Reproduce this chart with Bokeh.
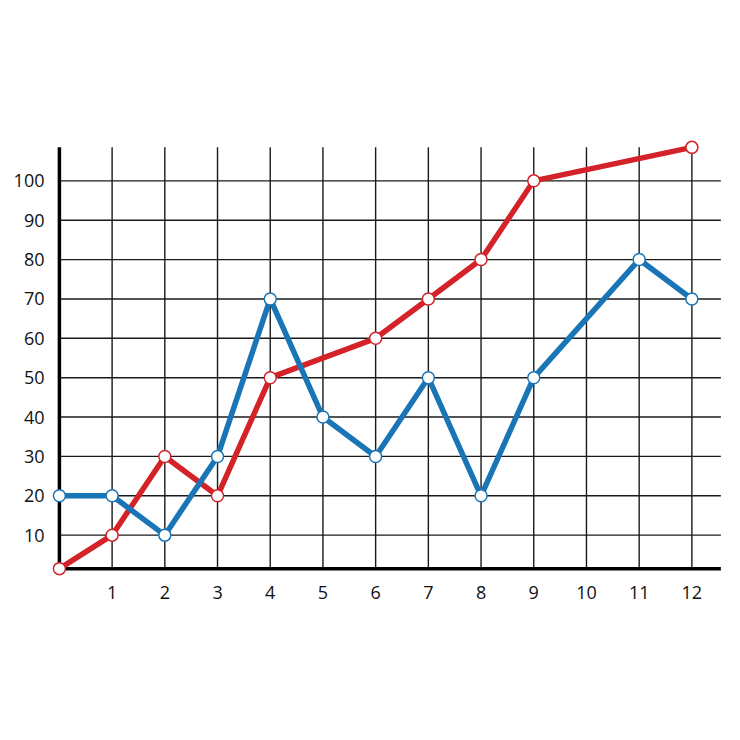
from bokeh.plotting import figure
from bokeh.models import Range1d, FixedTicker
from bokeh.embed import file_html
from bokeh.resources import INLINE

# ---- data ----
red_x = [0, 1, 2, 3, 4, 6, 7, 8, 9, 12]
red_y = [1.5, 10, 30, 20, 50, 60, 70, 80, 100, 108.5]
blue_x = [0, 1, 2, 3, 4, 5, 6, 7, 8, 9, 11, 12]
blue_y = [20, 20, 10, 30, 70, 40, 30, 50, 20, 50, 80, 70]
x_ticks = [1, 2, 3, 4, 5, 6, 7, 8, 9, 10, 11, 12]
y_ticks = [10, 20, 30, 40, 50, 60, 70, 80, 90, 100]
x_min, x_max = 0, 12.55
y_min, y_max = 1.5, 108.5

RED = "#d42229"
BLUE = "#1a75b7"
FONT = "Open Sans"

p = figure(frame_width=672, frame_height=437,
           x_range=Range1d(-0.15, 12.6), y_range=Range1d(-0.5, 110.5),
           output_backend="svg", toolbar_location=None,
           min_border_left=51, min_border_top=139, min_border_right=2,
           min_border_bottom=110)
p.outline_line_color = None
p.background_fill_color = "white"
p.xgrid.grid_line_color = None
p.ygrid.grid_line_color = None

for ax in (p.xaxis[0], p.yaxis[0]):
    ax.axis_line_color = None
    ax.major_tick_line_color = None
    ax.minor_tick_line_color = None
    ax.major_label_text_font = FONT
    ax.major_label_text_font_size = "18px"
    ax.major_label_text_color = "#111111"
p.xaxis[0].ticker = FixedTicker(ticks=x_ticks)
p.yaxis[0].ticker = FixedTicker(ticks=y_ticks)
p.xaxis[0].major_label_standoff = 3
p.yaxis[0].major_label_standoff = 1

# grid lines
p.segment(x0=x_ticks, y0=[y_min] * len(x_ticks), x1=x_ticks, y1=[y_max] * len(x_ticks),
          line_color="#1a1a1a", line_width=1.4)
p.segment(x0=[x_min] * len(y_ticks), y0=y_ticks, x1=[x_max] * len(y_ticks), y1=y_ticks,
          line_color="#1a1a1a", line_width=1.4)
# axis lines
p.segment(x0=[x_min], y0=[y_min], x1=[x_min], y1=[y_max], line_color="black", line_width=3.5)
p.segment(x0=[x_min], y0=[y_min], x1=[x_max], y1=[y_min], line_color="black", line_width=3.5)

# series
p.line(red_x, red_y, line_color=RED, line_width=5.5, line_join="round")
p.scatter(red_x, red_y, size=12, fill_color="white", line_color=RED, line_width=1.5)
p.line(blue_x, blue_y, line_color=BLUE, line_width=5.5, line_join="round")
p.scatter(blue_x, blue_y, size=12, fill_color="white", line_color=BLUE, line_width=1.5)

open("out.html", "w").write(file_html(p, INLINE))
